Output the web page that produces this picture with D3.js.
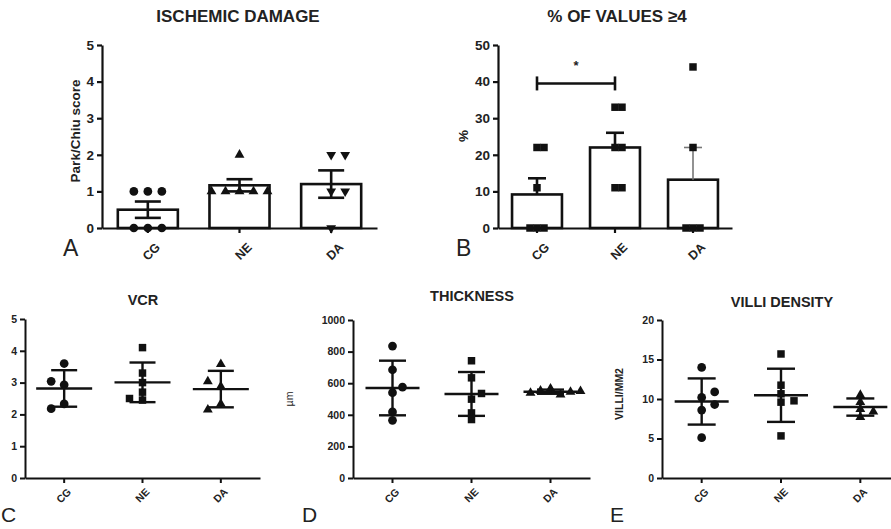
<!DOCTYPE html>
<html>
<head>
<meta charset="utf-8">
<script src="https://cdn.jsdelivr.net/npm/d3@7"></script>
<style>
  body { margin: 0; background: #fff; }
  svg { display: block; font-family: Arial, "Liberation Sans", Helvetica, sans-serif; }
</style>
</head>
<body>
<script>
// groups on every x axis
const groups = ["CG", "NE", "DA"];

// A - ischemic damage (Park/Chiu score), bar = mean, error = SEM
const ischemicCG = [1, 1, 1, 0, 0, 0];
const ischemicNE = [2, 1, 1, 1, 1, 1];
const ischemicDA = [2, 2, 1, 1, 0];
const ischemicTicks = [0, 1, 2, 3, 4, 5];

// B - % of values >= 4, bar = mean, error = SEM (upper only)
const pctCG = [22, 22, 11, 0, 0, 0];
const pctNE = [33, 33, 22, 22, 11, 11];
const pctDA = [44, 22, 0, 0, 0];
const pctTicks = [0, 10, 20, 30, 40, 50];
const pctSigPair = ["CG", "NE"];
const pctSigLevel = 39.5;

// C - VCR, mean +- SD
const vcrCG = [3.6, 2.93, 3.04, 2.33, 2.18];
const vcrNE = [4.1, 3.3, 3.0, 2.7, 2.5, 2.45];
const vcrDA = [3.58, 2.88, 3.04, 2.33, 2.15];
const vcrTicks = [0, 1, 2, 3, 4, 5];

// D - thickness (um), mean +- SD
const thickCG = [835, 685, 540, 575, 418, 365];
const thickNE = [742, 634, 499, 535, 412, 370];
const thickDA = [566, 527, 552, 545, 538, 550];
const thickTicks = [0, 200, 400, 600, 800, 1000];

// E - villi density (villi/mm2), mean +- SD
const villiCG = [14.0, 10.2, 10.9, 8.6, 9.3, 5.1];
const villiNE = [15.7, 11.75, 9.6, 9.77, 10.66, 5.33];
const villiDA = [10.5, 9.6, 8.7, 7.7, 8.4];
const villiTicks = [0, 5, 10, 15, 20];

const W = 891, H = 529;
const ink = "#111";
const svg = d3.select("body").append("svg").attr("width", W).attr("height", H);

// marker shapes per group
const shapeCircle = { type: d3.symbolCircle, size: 60, rot: 0 };
const shapeSquare = { type: d3.symbolSquare, size: 56, rot: 0 };
const shapeTri = { type: d3.symbolTriangle, size: 42, rot: 0 };
const shapeTriDown = { type: d3.symbolTriangle, size: 42, rot: 180 };

// simple beeswarm: push overlapping points sideways
function swarm(values, y, spacing, minGap, side) {
  const placed = [];
  const cands = [0];
  for (let i = 1; i < 8; i++) cands.push(side * i * spacing, -side * i * spacing);
  return values.map(v => {
    const py = y(v);
    let off = 0;
    for (const c of cands) {
      const hit = placed.some(p => Math.abs(p.dx - c) < spacing * 0.9 && Math.abs(p.y - py) < minGap);
      if (!hit) { off = c; break; }
    }
    placed.push({ dx: off, y: py });
    return off;
  });
}

function drawAxes(p, x, y) {
  const xAxis = svg.append("g")
    .attr("transform", `translate(0,${p.yRange[0]})`)
    .call(d3.axisBottom(x).tickSizeOuter(0).tickSizeInner(5).tickFormat(() => ""));
  xAxis.select(".domain").attr("stroke", ink).attr("stroke-width", p.axisW);
  xAxis.selectAll(".tick line").attr("stroke", ink).attr("stroke-width", p.axisW);
  // rotated category labels
  groups.forEach(g => {
    const cx = x(g) + x.bandwidth() / 2;
    svg.append("text")
      .attr("transform", `translate(${cx + p.xLabDx},${p.yRange[0] + p.xLabDy}) rotate(-45)`)
      .attr("text-anchor", "end")
      .attr("dy", "0.35em")
      .attr("font-size", p.xLabSize)
      .attr("font-weight", "bold")
      .attr("fill", "#222")
      .text(g);
  });

  const yAxis = svg.append("g")
    .attr("transform", `translate(${p.xRange[0]},0)`)
    .call(d3.axisLeft(y).tickValues(p.ticks).tickFormat(d3.format("d"))
      .tickSizeOuter(0).tickSizeInner(5).tickPadding(3));
  yAxis.select(".domain").attr("stroke", ink).attr("stroke-width", p.axisW);
  yAxis.selectAll(".tick line").attr("stroke", ink).attr("stroke-width", p.axisW);
  yAxis.selectAll(".tick text")
    .attr("font-size", p.yLabSize).attr("font-weight", "bold").attr("fill", "#222")
    .attr("font-family", "Arial, 'Liberation Sans', sans-serif");

  // title
  svg.append("text")
    .attr("x", p.titleX).attr("y", p.titleY)
    .attr("text-anchor", "middle")
    .attr("font-size", p.titleSize).attr("font-weight", "bold").attr("fill", "#222")
    .text(p.title);

  // y label
  if (p.yTitle) {
    svg.append("text")
      .attr("transform", `translate(${p.yTitleX},${p.yTitleY}) rotate(-90)`)
      .attr("text-anchor", "middle")
      .attr("font-size", p.yTitleSize)
      .attr("font-weight", p.yTitleWeight || "bold")
      .attr("fill", "#222")
      .text(p.yTitle);
  }

  // panel letter
  svg.append("text")
    .attr("x", p.letterX).attr("y", p.letterY)
    .attr("font-size", p.letterSize).attr("fill", "#222")
    .text(p.letter);
}

function drawPoints(p, x, y) {
  p.series.forEach((vals, i) => {
    const g = groups[i];
    const cx = x(g) + x.bandwidth() / 2;
    const offs = swarm(vals, y, p.spacing, p.minGap, p.side || 1);
    const sh = p.shapes[i];
    svg.append("g").selectAll("path")
      .data(vals)
      .join("path")
      .attr("d", d3.symbol().type(sh.type).size(sh.size))
      .attr("transform", (d, j) => `translate(${cx + offs[j]},${y(d)}) rotate(${sh.rot})`)
      .attr("fill", ink);
  });
}

function barPanel(p) {
  const x = d3.scaleBand().domain(groups).range(p.xRange).padding(0);
  const y = d3.scaleLinear().domain([0, d3.max(p.ticks)]).range(p.yRange);
  const bw = x.bandwidth() * p.barFrac;

  p.series.forEach((vals, i) => {
    const g = groups[i];
    const cx = x(g) + x.bandwidth() / 2;
    const m = d3.mean(vals);
    const sem = d3.deviation(vals) / Math.sqrt(vals.length);
    svg.append("rect")
      .attr("x", cx - bw / 2).attr("y", y(m))
      .attr("width", bw).attr("height", y(0) - y(m))
      .attr("fill", "#fff").attr("stroke", ink).attr("stroke-width", 2.6);
    const col = p.errColor[i], sw = p.errWidth[i];
    const lo = p.bothSides ? m - sem : m;
    svg.append("line")
      .attr("x1", cx).attr("x2", cx).attr("y1", y(m + sem)).attr("y2", y(lo))
      .attr("stroke", col).attr("stroke-width", sw);
    const caps = p.bothSides ? [m + sem, m - sem] : [m + sem];
    caps.forEach(v => {
      svg.append("line")
        .attr("x1", cx - p.capW / 2).attr("x2", cx + p.capW / 2)
        .attr("y1", y(v)).attr("y2", y(v))
        .attr("stroke", col).attr("stroke-width", sw);
    });
  });

  drawAxes(p, x, y);
  drawPoints(p, x, y);
  return { x, y };
}

function scatterPanel(p) {
  const x = d3.scaleBand().domain(groups).range(p.xRange).padding(0);
  const y = d3.scaleLinear().domain([0, d3.max(p.ticks)]).range(p.yRange);

  drawAxes(p, x, y);
  drawPoints(p, x, y);

  p.series.forEach((vals, i) => {
    const g = groups[i];
    const cx = x(g) + x.bandwidth() / 2;
    const m = d3.mean(vals);
    const sd = d3.deviation(vals);
    const lines = [
      [cx - p.meanW / 2, cx + p.meanW / 2, y(m), y(m)],
      [cx - p.capW / 2, cx + p.capW / 2, y(m + sd), y(m + sd)],
      [cx - p.capW / 2, cx + p.capW / 2, y(m - sd), y(m - sd)],
      [cx, cx, y(m + sd), y(m - sd)]
    ];
    svg.append("g").selectAll("line")
      .data(lines)
      .join("line")
      .attr("x1", d => d[0]).attr("x2", d => d[1])
      .attr("y1", d => d[2]).attr("y2", d => d[3])
      .attr("stroke", ink).attr("stroke-width", 2.4);
  });
}

// ---- A ----
barPanel({
  series: [ischemicCG, ischemicNE, ischemicDA],
  shapes: [shapeCircle, shapeTri, shapeTriDown],
  ticks: ischemicTicks,
  xRange: [102, 377], yRange: [228, 45],
  barFrac: 0.655, capW: 26, bothSides: true,
  errColor: [ink, ink, ink], errWidth: [2.6, 2.6, 2.6],
  spacing: 14, minGap: 6.5, axisW: 2.2,
  title: "ISCHEMIC DAMAGE", titleX: 238, titleY: 22, titleSize: 17,
  yTitle: "Park/Chiu score", yTitleX: 80, yTitleY: 131, yTitleSize: 13.5,
  yLabSize: 13.5, xLabSize: 12.5, xLabDx: 10, xLabDy: 17,
  letter: "A", letterX: 63, letterY: 256, letterSize: 23
});

// ---- B ----
const panelB = barPanel({
  series: [pctCG, pctNE, pctDA],
  shapes: [shapeSquare, shapeSquare, shapeSquare],
  ticks: pctTicks,
  xRange: [498, 732], yRange: [228, 45],
  barFrac: 0.64, capW: 18, bothSides: false,
  errColor: [ink, ink, "#777"], errWidth: [2.6, 2.6, 1.6],
  spacing: 7, minGap: 6.5, axisW: 2.2,
  title: "% OF VALUES \u22654", titleX: 617, titleY: 22, titleSize: 17,
  yTitle: "%", yTitleX: 468, yTitleY: 136, yTitleSize: 13.5,
  yLabSize: 13.5, xLabSize: 12.5, xLabDx: 10, xLabDy: 17,
  letter: "B", letterX: 456, letterY: 256, letterSize: 23
});

// significance bracket CG vs NE
{
  const { x, y } = panelB;
  const x1 = x(pctSigPair[0]) + x.bandwidth() / 2;
  const x2 = x(pctSigPair[1]) + x.bandwidth() / 2;
  const yy = y(pctSigLevel);
  const br = svg.append("g").attr("stroke", ink).attr("stroke-width", 2.6);
  br.append("line").attr("x1", x1).attr("x2", x2).attr("y1", yy).attr("y2", yy);
  [x1, x2].forEach(xx => br.append("line").attr("x1", xx).attr("x2", xx).attr("y1", yy - 7).attr("y2", yy + 7));
  svg.append("text")
    .attr("x", (x1 + x2) / 2).attr("y", yy - 13)
    .attr("text-anchor", "middle").attr("font-size", 13).attr("font-weight", "bold").attr("fill", "#222")
    .text("*");
}

// ---- C ----
scatterPanel({
  series: [vcrCG, vcrNE, vcrDA],
  shapes: [shapeCircle, shapeSquare, shapeTri],
  ticks: vcrTicks,
  xRange: [25, 260], yRange: [478, 319],
  meanW: 56, capW: 26,
  spacing: 13, minGap: 6.5, side: -1, axisW: 2,
  title: "VCR", titleX: 143, titleY: 305, titleSize: 14.5,
  yLabSize: 10.5, xLabSize: 10.5, xLabDx: 5, xLabDy: 12,
  letter: "C", letterX: 1, letterY: 522, letterSize: 21
});

// ---- D ----
scatterPanel({
  series: [thickCG, thickNE, thickDA],
  shapes: [shapeCircle, shapeSquare, shapeTri],
  ticks: thickTicks,
  xRange: [353, 590], yRange: [478, 320],
  meanW: 54, capW: 27,
  spacing: 10, minGap: 6.5, axisW: 2,
  title: "THICKNESS", titleX: 472, titleY: 301, titleSize: 14.5,
  yTitle: "\u00b5m", yTitleX: 293, yTitleY: 399, yTitleSize: 10.5, yTitleWeight: "normal",
  yLabSize: 10.5, xLabSize: 10.5, xLabDx: 5, xLabDy: 12,
  letter: "D", letterX: 302, letterY: 522, letterSize: 21
});

// ---- E ----
scatterPanel({
  series: [villiCG, villiNE, villiDA],
  shapes: [shapeCircle, shapeSquare, shapeTri],
  ticks: villiTicks,
  xRange: [662, 900], yRange: [478, 320],
  meanW: 54, capW: 28,
  spacing: 13, minGap: 6.5, axisW: 2,
  title: "VILLI DENSITY", titleX: 782, titleY: 307, titleSize: 14.5,
  yTitle: "VILLI/MM2", yTitleX: 623, yTitleY: 394, yTitleSize: 10.5,
  yLabSize: 10.5, xLabSize: 10.5, xLabDx: 5, xLabDy: 12,
  letter: "E", letterX: 610, letterY: 522, letterSize: 21
});
</script>
</body>
</html>
